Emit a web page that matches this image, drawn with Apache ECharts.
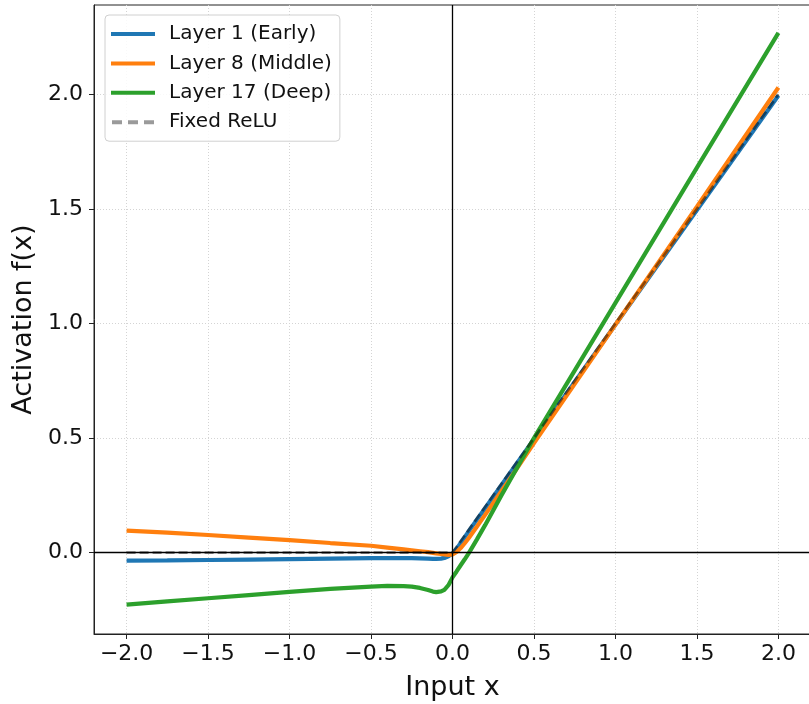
<!DOCTYPE html>
<html>
<head>
<meta charset="utf-8">
<script src="https://cdn.jsdelivr.net/npm/echarts@6/dist/echarts.min.js"></script>
<style>
  html, body { margin: 0; padding: 0; background: #fff; }
  #chart { width: 809px; height: 704px; }
</style>
</head>
<body>
<div id="chart"></div>
<script>
// x positions sampled along the curves (denser near the bend at 0)
var xs = [-2.0, -1.75, -1.5, -1.25, -1.0, -0.75, -0.5, -0.4, -0.3, -0.25, -0.2, -0.15, -0.12, -0.1, -0.07, -0.05, -0.025, 0.0, 0.025, 0.05, 0.075, 0.1, 0.15, 0.2, 0.3, 0.4, 0.5, 1.0, 1.5, 2.0];
var layer1 = [-0.035, -0.034, -0.032, -0.03, -0.028, -0.026, -0.024, -0.024, -0.024, -0.024, -0.025, -0.026, -0.027, -0.027, -0.026, -0.023, -0.016, -0.004, 0.016, 0.042, 0.068, 0.094, 0.144, 0.194, 0.294, 0.395, 0.495, 0.995, 1.495, 1.995];
var layer8 = [0.096, 0.087, 0.077, 0.066, 0.055, 0.042, 0.03, 0.022, 0.014, 0.01, 0.006, 0.002, -0.001, -0.003, -0.006, -0.008, -0.01, -0.008, 0.003, 0.02, 0.041, 0.064, 0.114, 0.165, 0.268, 0.372, 0.478, 0.995, 1.51, 2.03];
var layer17 = [-0.227, -0.213, -0.199, -0.185, -0.171, -0.158, -0.148, -0.145, -0.146, -0.148, -0.154, -0.163, -0.17, -0.172, -0.169, -0.162, -0.142, -0.108, -0.082, -0.055, -0.029, -0.002, 0.058, 0.12, 0.25, 0.375, 0.5, 1.09, 1.68, 2.268];
var reluX = [-2.0, 0.0, 2.0];
var reluY = [0.0, 0.0, 2.0];

var xTicks = [-2.0, -1.5, -1.0, -0.5, 0.0, 0.5, 1.0, 1.5, 2.0];
var yTicks = [0.0, 0.5, 1.0, 1.5, 2.0];

function pairs(x, y) {
  return x.map(function (v, i) { return [v, y[i]]; });
}
function fmt(v) {
  return v.toFixed(1).replace('-', '\u2212');
}

var chart = echarts.init(document.getElementById('chart'));
var FONT = 'DejaVu Sans';
var SOLID = 'path://M0,0H44V4H0Z';
var DASHED = 'path://M0,0H10V4H0Z M16,0H26V4H16Z M32,0H42V4H32Z';

var option = {
  backgroundColor: '#ffffff',
  animation: false,
  textStyle: { fontFamily: FONT },
  grid: {
    left: 94, top: 5, width: 717, height: 629,
    outerBoundsMode: 'none',
    show: true, borderColor: '#222', borderWidth: 1
  },
  legend: {
    left: 105, top: 15,
    orient: 'vertical',
    itemWidth: 44, itemHeight: 4, itemGap: 9.4,
    padding: [9, 8, 9, 6],
    backgroundColor: 'rgba(255,255,255,0.85)',
    borderColor: '#d0d0d0', borderWidth: 1, borderRadius: 4,
    textStyle: { fontFamily: FONT, fontSize: 20, color: '#111', padding: [0, 0, 0, 9] },
    data: [
      { name: 'Layer 1 (Early)', icon: SOLID },
      { name: 'Layer 8 (Middle)', icon: SOLID },
      { name: 'Layer 17 (Deep)', icon: SOLID },
      { name: 'Fixed ReLU', icon: DASHED, itemStyle: { color: '#9a9a9a' } }
    ]
  },
  xAxis: {
    type: 'value', min: -2.2, max: 2.2,
    name: 'Input x', nameLocation: 'middle', nameGap: 40,
    nameTextStyle: { fontFamily: FONT, fontSize: 27, color: '#111' },
    axisLine: { show: true, onZero: false, lineStyle: { color: '#222', width: 1 } },
    axisTick: { show: true, length: 5, customValues: xTicks, lineStyle: { color: '#222', width: 1 } },
    axisLabel: { customValues: xTicks, formatter: fmt, fontSize: 22, color: '#111', margin: 9, fontFamily: FONT },
    splitLine: { show: true, lineStyle: { color: '#d4d4d4', width: 1, type: [1, 2] } }
  },
  yAxis: {
    type: 'value', min: -0.355, max: 2.39,
    name: 'Activation f(x)', nameLocation: 'middle', nameGap: 42,
    nameTextStyle: { fontFamily: FONT, fontSize: 27, color: '#111' },
    axisLine: { show: true, onZero: false, lineStyle: { color: '#222', width: 1 } },
    axisTick: { show: true, length: 5, customValues: yTicks, lineStyle: { color: '#222', width: 1 } },
    axisLabel: { customValues: yTicks, formatter: fmt, fontSize: 22, color: '#111', margin: 11, fontFamily: FONT },
    splitLine: { show: true, lineStyle: { color: '#d4d4d4', width: 1, type: [1, 2] } }
  },
  series: [
    {
      name: 'Layer 1 (Early)', type: 'line', data: pairs(xs, layer1),
      symbol: 'none',
      lineStyle: { color: '#1f77b4', width: 4.2 }, itemStyle: { color: '#1f77b4' }
    },
    {
      name: 'Layer 8 (Middle)', type: 'line', data: pairs(xs, layer8),
      symbol: 'none',
      lineStyle: { color: '#ff7f0e', width: 4.2 }, itemStyle: { color: '#ff7f0e' }
    },
    {
      name: 'Layer 17 (Deep)', type: 'line', data: pairs(xs, layer17),
      symbol: 'none',
      lineStyle: { color: '#2ca02c', width: 4.2 }, itemStyle: { color: '#2ca02c' }
    },
    {
      name: 'Fixed ReLU', type: 'line', data: pairs(reluX, reluY),
      symbol: 'none',
      lineStyle: { color: 'rgba(0,0,0,0.45)', width: 2.7, type: [9, 4] },
      itemStyle: { color: '#9a9a9a' },
      markLine: {
        silent: true, symbol: 'none', label: { show: false },
        lineStyle: { color: '#000', width: 1.3, type: 'solid' },
        data: [{ xAxis: 0 }, { yAxis: 0 }]
      }
    }
  ]
};

chart.setOption(option);
</script>
</body>
</html>
